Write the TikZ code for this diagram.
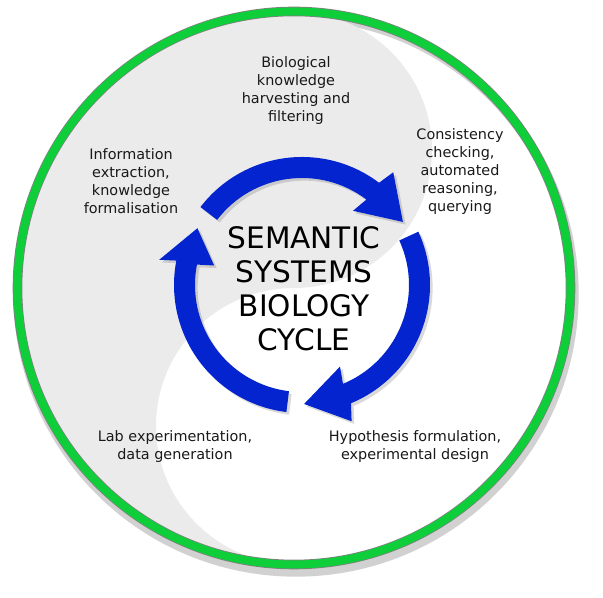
\documentclass[tikz,border=0pt]{standalone}
\usepackage{fontspec}
\setmainfont{DejaVu Sans}
\usetikzlibrary{shadows}

\definecolor{ringgreen}{RGB}{14,206,58}
\definecolor{cycleblue}{RGB}{4,36,208}
\definecolor{yingray}{RGB}{235,235,235}

\tikzset{
  steplabel/.style={align=center, inner sep=0pt, text=black!90,
    font=\fontsize{10.8}{13.5}\selectfont},
  titlelabel/.style={align=center, inner sep=0pt, text=black,
    font=\fontsize{22.2}{25.5}\selectfont},
  cyclearrow/.style={fill=cycleblue,
    drop shadow={shadow xshift=2pt, shadow yshift=-2pt, opacity=0.3}},
}

% one blue arc: tail, head base, outer wing, inner wing, tip
\newcommand{\cyclearc}[5]{%
  \fill[cyclearrow] (#1:128) arc[start angle=#1, end angle=#2, radius=128]
    -- (#3:145) -- (#5:119) -- (#4:90) -- (#2:107)
    arc[start angle=#2, end angle=#1, radius=107] -- cycle;}

\begin{document}
\begin{tikzpicture}[x=0.75pt, y=0.75pt]
    \useasboundingbox (0,0) rectangle (603,598);
    \coordinate (ring) at (294,310);
    \coordinate (hub) at (302,313);

    % shadow under the ring
    \draw[black, opacity=0.18, line width=7pt] (296,304) circle[radius=278];

    % grey half of the yin-yang
    \fill[yingray] (294,586) arc[start angle=90, end angle=-90, radius=138]
      arc[start angle=90, end angle=270, radius=138]
      arc[start angle=270, end angle=90, radius=276] -- cycle;

    % green ring
    \draw[black!50, line width=7.2pt] (ring) circle[radius=276.5];
    \draw[ringgreen, line width=6pt] (ring) circle[radius=276.5];

    % the three arrows
    \begin{scope}[shift={(hub)}]
      \cyclearc{142.5}{53}{51}{55.5}{32}
      \cyclearc{24.6}{-67.5}{-70}{-65}{-89}
      \cyclearc{263}{169}{170}{167.5}{151.5}
    \end{scope}

    % labels
    \node[titlelabel] (title) at (304,309.5) {SEMANTIC\\SYSTEMS\\BIOLOGY\\CYCLE};
    \node[steplabel] (harvest) at (296,507) {Biological\\knowledge\\harvesting and\\filtering};
    \node[steplabel] (extract) at (131,417) {Information\\extraction,\\knowledge\\formalisation};
    \node[steplabel] (reason) at (460,426) {Consistency\\checking,\\automated\\reasoning,\\querying};
    \node[steplabel] (hypo) at (415,151.5) {Hypothesis formulation,\\experimental design};
    \node[steplabel] (lab) at (175,151.5) {Lab experimentation,\\data generation};
\end{tikzpicture}
\end{document}
